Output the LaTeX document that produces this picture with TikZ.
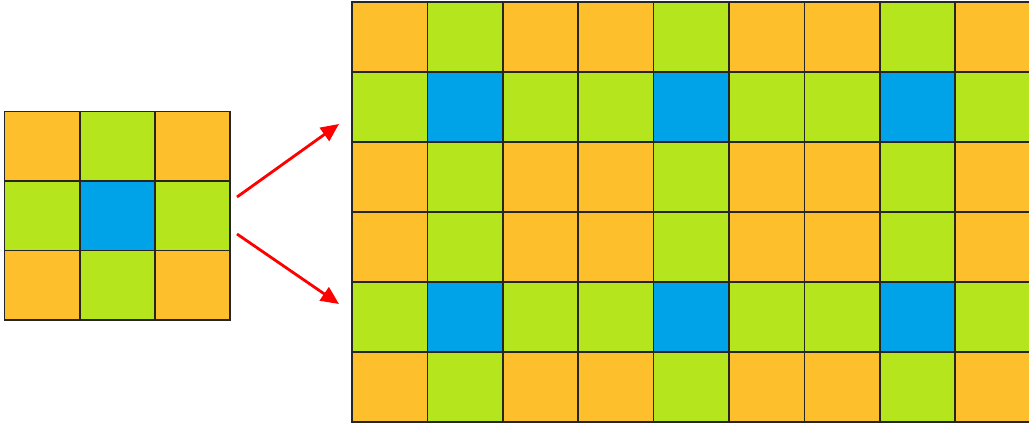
\documentclass[tikz,border=0pt]{standalone}
\usetikzlibrary{arrows.meta}

\definecolor{tile0}{HTML}{FDBF2B}
\definecolor{tile1}{HTML}{B5E61D}
\definecolor{tile2}{HTML}{00A2E8}

\begin{document}
\begin{tikzpicture}[
            x=0.02cm, y=-0.02cm,
            cell/.style={inner sep=0pt, outer sep=0pt},
            smallcell/.style={cell, minimum width=1.504cm, minimum height=1.39cm},
            bigcell/.style={cell, minimum width=1.508cm, minimum height=1.4cm},
            edge/.style={draw=black!85, line width=1pt},
            >={Triangle[length=0.36cm, width=0.32cm]}
        ]
        \useasboundingbox (0,0) rectangle (1029,427);
        \clip (0,0) rectangle (1029,427);

        % kernel 3x3
        \foreach \r in {0,...,2}{
            \foreach \c in {0,...,2}{
                \pgfmathtruncatemacro\k{(mod(\r,3)==1)+(mod(\c,3)==1)}
                \node[smallcell, fill=tile\k] (small-\r-\c) at ({4.5+75.2*(\c+0.5)}, {111.5+69.5*(\r+0.5)}) {};
            }
        }

        % tiled 6x9
        \foreach \r in {0,...,5}{
            \foreach \c in {0,...,8}{
                \pgfmathtruncatemacro\k{(mod(\r,3)==1)+(mod(\c,3)==1)}
                \node[bigcell, fill=tile\k] (big-\r-\c) at ({352+75.4*(\c+0.5)}, {2+70*(\r+0.5)}) {};
            }
        }

        % cell borders on top
        \foreach \r in {0,...,2}
            \foreach \c in {0,...,2}
                \draw[edge] (small-\r-\c.north west) rectangle (small-\r-\c.south east);
        \foreach \r in {0,...,5}
            \foreach \c in {0,...,8}
                \draw[edge] (big-\r-\c.north west) rectangle (big-\r-\c.south east);

        \coordinate (from1) at (237,197);
        \coordinate (to1) at (339,124);
        \coordinate (from2) at (237,234);
        \coordinate (to2) at (339,304);

        \draw[->, red, line width=1.6pt] (from1) -- (to1);
        \draw[->, red, line width=1.6pt] (from2) -- (to2);
    \end{tikzpicture}
\end{document}
